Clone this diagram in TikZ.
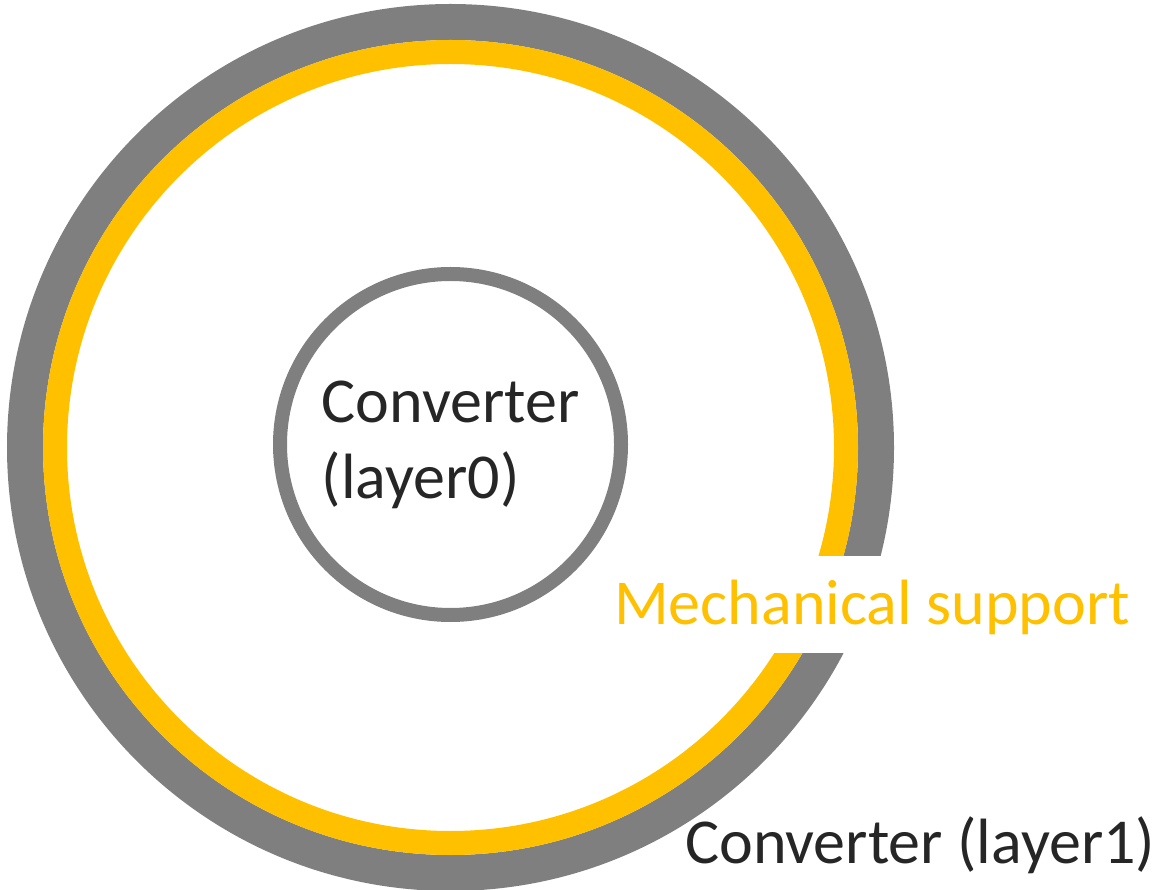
\documentclass[tikz,border=0pt]{standalone}
\usepackage{fontspec}
\setmainfont{Carlito}
\usepackage{xcolor}
\usetikzlibrary{positioning}
\definecolor{cvgray}{HTML}{7F7F7F}
\definecolor{cvgold}{HTML}{FFC000}
\definecolor{cvtext}{HTML}{262626}
\tikzset{
  ringnode/.style={
    circle,
    draw=cvgray,
    fill=none,
    inner sep=0pt,
    outer sep=0pt
  },
  layertext/.style={
    font=\fontsize{64}{76}\selectfont,
    text=cvtext,
    inner sep=0pt
  },
  supporttext/.style={
    font=\fontsize{64}{76}\selectfont,
    text=cvgold,
    fill=white,
    inner xsep=10pt,
    inner ysep=0pt,
    text height=68pt,
    text depth=29pt
  }
}

\begin{document}
\begin{tikzpicture}[x=1pt, y=1pt]
  \useasboundingbox (0,0) rectangle (1155,889);
  \coordinate (mid) at (450.5,441.5);

  % outer converter and the support ring inside it
  \node[ringnode, line width=36pt, minimum size=851pt] (layer1) at (mid) {};
  \node[ringnode, draw=cvgold, line width=24pt, minimum size=791pt] (support) at (mid) {};

  % inner converter
  \node[ringnode, line width=14pt, minimum size=341pt,
        layertext, align=left] (layer0) at ([yshift=3pt]mid)
    {Converter\\(layer0)};

  % labels on the outer rings
  \node[supporttext, anchor=base west] (supportlbl) at (604,265) {Mechanical support};
  \node[layertext, anchor=base west] (layer1lbl) at (685,26) {Converter (layer1)};
\end{tikzpicture}
\end{document}
